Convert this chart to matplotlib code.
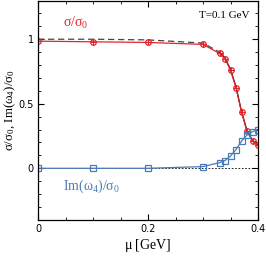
import numpy as np
import matplotlib
matplotlib.use('Agg')
import matplotlib.pyplot as plt
from matplotlib.ticker import MultipleLocator

# data
mu_sig = [0.0, 0.1, 0.2, 0.3, 0.33, 0.34, 0.35, 0.36, 0.37, 0.38, 0.39, 0.40]
sigma = [0.985, 0.98, 0.975, 0.96, 0.89, 0.85, 0.76, 0.625, 0.435, 0.287, 0.212, 0.178]

mu_im = [0.0, 0.1, 0.2, 0.3, 0.33, 0.34, 0.35, 0.36, 0.37, 0.38, 0.39, 0.40]
im_w4 = [0.0, 0.0, 0.0, 0.013, 0.044, 0.06, 0.095, 0.145, 0.21, 0.258, 0.284, 0.30]

mu_ref = [0.0, 0.1, 0.2, 0.3, 0.33, 0.34, 0.35, 0.36, 0.37, 0.38, 0.39, 0.40]
sig_ref = [1.0, 1.0, 0.995, 0.97, 0.9, 0.855, 0.765, 0.63, 0.44, 0.29, 0.214, 0.18]

red = '#e0262c'
blue = '#4a7bb7'
serif = ['Liberation Serif', 'DejaVu Serif']

fig = plt.figure(figsize=(2.66, 2.56), dpi=100)
ax = fig.add_axes([0.143, 0.141, 0.827, 0.857])

ax.axhline(0, color='black', lw=0.6, ls=(0, (2, 2)))
ax.plot(mu_ref[:5], sig_ref[:5], color='#444444', lw=0.9, ls=(0, (5, 3)))
ax.plot(mu_ref[4:], sig_ref[4:], color='black', lw=0.9)

ax.plot(mu_sig, sigma, color=red, lw=0.9, marker='o', ms=4, mfc='none', mec=red, mew=0.9)
ax.plot(mu_sig, sigma, ls='none', marker='+', ms=4, mec=red, mew=0.8)
ax.plot(mu_im, im_w4, color=blue, lw=0.9, marker='s', ms=4, mfc='none', mec=blue, mew=0.9)

ax.set_xlim(0, 0.4)
ax.set_ylim(-0.4, 1.3)
ax.set_xticks([0, 0.2, 0.4])
ax.set_xticklabels(['0', '0.2', '0.4'])
ax.set_yticks([0, 0.5, 1])
ax.set_yticklabels(['0', '0.5', '1'])
ax.xaxis.set_minor_locator(MultipleLocator(0.05))
ax.yaxis.set_minor_locator(MultipleLocator(0.1))
ax.tick_params(which='both', direction='in', top=True, right=True, labelsize=7, pad=3)
ax.tick_params(which='major', length=4)
ax.tick_params(which='minor', length=2)

ax.set_xlabel(r'$\mathregular{\mu}$ [GeV]', family=serif, fontsize=10, labelpad=2)
ax.set_ylabel(r'$\mathregular{\sigma/\sigma_0}$, Im($\mathregular{\omega_4}$)/$\mathregular{\sigma_0}$',
              family=serif, fontsize=9.3)
ax.yaxis.set_label_coords(-0.09, 0.5)

ax.text(0.045, 1.13, r'$\mathregular{\sigma/\sigma_0}$', color=red, family=serif, fontsize=10, va='center')
ax.text(0.045, -0.14, r'Im($\mathregular{\omega_4}$)/$\mathregular{\sigma_0}$', color=blue, family=serif,
        fontsize=10, va='center')
ax.text(0.292, 1.18, 'T=0.1 GeV', family=serif, fontsize=8, va='center')

for s in ax.spines.values():
    s.set_linewidth(0.9)

fig.savefig('out.png', dpi=100)
